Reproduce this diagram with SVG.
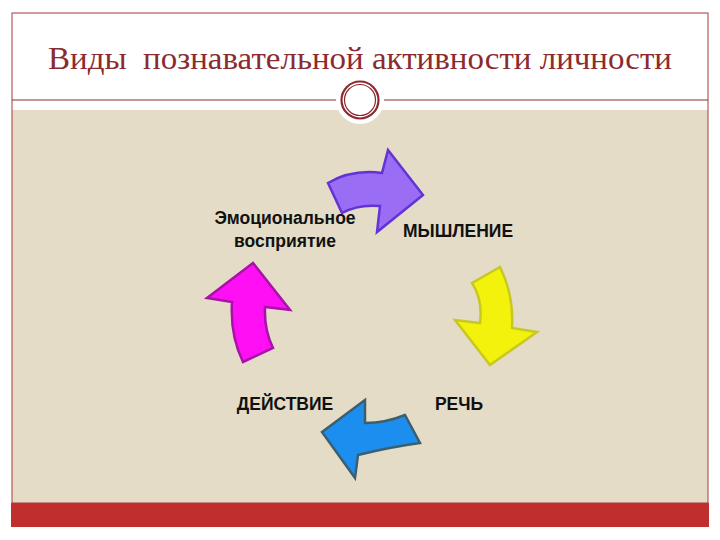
<svg xmlns="http://www.w3.org/2000/svg" width="720" height="540" viewBox="0 0 720 540">
<style>
.lbl{font-family:"Liberation Sans",Arial,sans-serif;font-size:17.5px;font-weight:bold;fill:#111;text-anchor:middle}
.arr{stroke-width:2.5;stroke-linejoin:miter}
</style>
<rect x="0" y="0" width="720" height="540" fill="#ffffff"/>
<rect x="12" y="110" width="696" height="393" fill="#E4DCC7"/>
<rect x="12" y="13" width="696" height="490" fill="none" stroke="#A83A3A" stroke-width="1"/>
<line x1="12" y1="100" x2="337" y2="100" stroke="#8B2B30" stroke-width="1.2"/>
<line x1="383" y1="100" x2="708" y2="100" stroke="#8B2B30" stroke-width="1.2"/>
<rect x="11" y="503" width="698" height="24" fill="#C02F2E"/>
<g id="title">
<text x="48" y="69" font-family="Liberation Serif,'Times New Roman',serif" font-size="32" fill="#8B2B30" textLength="624" lengthAdjust="spacingAndGlyphs" xml:space="preserve">Виды  познавательной активности личности</text>
</g>
<g id="ornament">
<circle cx="360" cy="100" r="24" fill="#ffffff"/>
<circle cx="360" cy="100" r="18.5" fill="none" stroke="#8B2B30" stroke-width="2.2"/>
<circle cx="360" cy="100" r="15.5" fill="none" stroke="#8B2B30" stroke-width="1.2"/>
</g>
<g id="connectors">
<path class="arr" fill="#9B6CF4" stroke="#6233D6" d="M328,183 Q352,169 382,173 L388,150 L423,195 L377,232 L380,206 Q358,204 342,213 Z"/>
<path class="arr" fill="#F2F20C" stroke="#C8C822" d="M472,283 L500,267 Q514,295 512,328 L537,332 L490,365 L455,320 L480,323 Q483,300 472,283 Z"/>
<path class="arr" fill="#1C8EF0" stroke="#3C5F6E" d="M405,415 L420,443 Q390,447 358,455 L355,478 L322,432 L365,400 L365,423 Q386,423 405,415 Z"/>
<path class="arr" fill="#FF10F4" stroke="#A812A8" d="M253,263 L290,310 L265,307 Q264,330 273,348 L243,362 Q230,335 232,302 L207,298 Z"/>
</g>
<g id="node-emotion">
<text class="lbl" x="285" y="224">Эмоциональное</text>
<text class="lbl" x="285" y="247">восприятие</text>
</g>
<g id="node-thinking"><text class="lbl" x="458" y="237">МЫШЛЕНИЕ</text></g>
<g id="node-action"><text class="lbl" x="285" y="410">ДЕЙСТВИЕ</text></g>
<g id="node-speech"><text class="lbl" x="459" y="410">РЕЧЬ</text></g>
</svg>
